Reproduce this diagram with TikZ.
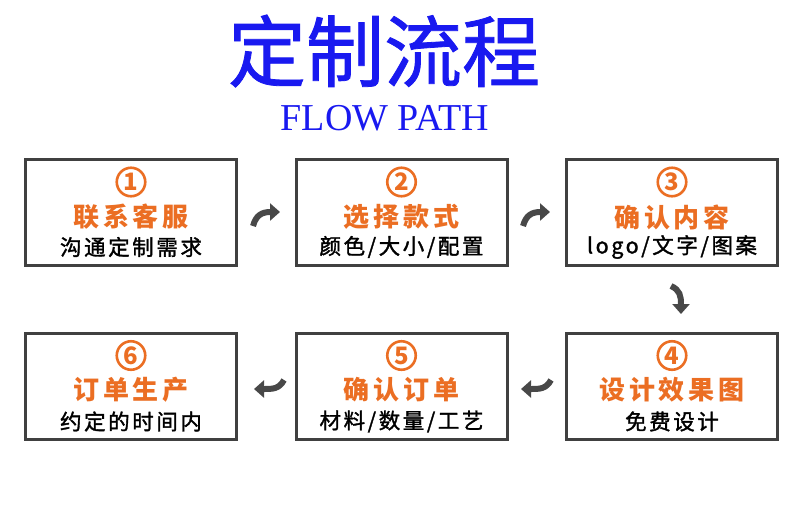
\documentclass[tikz,border=0pt]{standalone}
\usepackage{fontspec}
\setmainfont{Liberation Serif}
\newfontfamily\cjk{Noto Sans CJK SC}
\newfontfamily\cjktitle[FakeBold=1]{Noto Sans CJK SC}
\newfontfamily\cjkorange[LetterSpace=15]{Noto Sans CJK SC}
\newfontfamily\cjkblack[LetterSpace=12,FakeBold=1.5]{Noto Sans CJK SC}
\usetikzlibrary{arrows.meta}
\definecolor{titleblue}{RGB}{25,25,240}
\definecolor{orangec}{RGB}{235,110,35}
\definecolor{boxgray}{RGB}{64,64,64}
\definecolor{arrowgray}{RGB}{72,72,72}
\tikzset{
  stepbox/.style={draw=boxgray, line width=3pt, minimum width=211pt, minimum height=106pt, inner sep=0pt, fill=white},
  numc/.style={circle, draw=orangec, line width=2.6pt, minimum size=28.5pt, inner sep=0pt, text=orangec, font=\cjk\bfseries\fontsize{24}{24}\selectfont},
  headtxt/.style={text=orangec, inner sep=0pt, font=\cjkorange\bfseries\fontsize{26}{26}\selectfont},
  subtxt/.style={text=black, inner sep=0pt, font=\cjkblack\fontsize{21.5}{21.5}\selectfont},
  flowarrow/.style={line width=6pt, draw=arrowgray, -{Triangle[length=10pt,width=17pt]}}
}
\begin{document}
\begin{tikzpicture}[x=1pt, y=-1pt]
\useasboundingbox (0,0) rectangle (800,504);
\fill[white] (0,0) rectangle (800,504);

\node[text=titleblue, inner sep=0pt, font=\cjktitle\fontsize{78}{78}\selectfont] (title) at (384,51) {定制流程};
\node[text=titleblue, inner sep=0pt, font=\fontsize{38}{38}\selectfont] (subtitle) at (385,118.5) {FLOW PATH};

% boxes
\node[stepbox] (b1) at (131,212.5) {};
\node[stepbox] (b2) at (401.5,212.5) {};
\node[stepbox] (b3) at (672,212.5) {};
\node[stepbox] (b4) at (672,386) {};
\node[stepbox] (b5) at (401.5,386) {};
\node[stepbox] (b6) at (131,386) {};

% box 1
\node[numc] (n1) at ([yshift=-24pt]b1.north) {1};
\node[headtxt] (h1) at ([yshift=-59pt]b1.north) {联系客服};
\node[subtxt] (s1) at ([yshift=-89pt]b1.north) {沟通定制需求};
% box 2
\node[numc] (n2) at ([yshift=-24pt]b2.north) {2};
\node[headtxt] (h2) at ([yshift=-59pt]b2.north) {选择款式};
\node[subtxt] (s2) at ([yshift=-89pt]b2.north) {颜色/大小/配置};
% box 3
\node[numc] (n3) at ([yshift=-24pt]b3.north) {3};
\node[headtxt] (h3) at ([yshift=-59pt]b3.north) {确认内容};
\node[subtxt] (s3) at ([yshift=-89pt]b3.north) {logo/文字/图案};
% box 4
\node[numc] (n4) at ([yshift=-24pt]b4.north) {4};
\node[headtxt] (h4) at ([yshift=-58pt]b4.north) {设计效果图};
\node[subtxt] (s4) at ([yshift=-90pt]b4.north) {免费设计};
% box 5
\node[numc] (n5) at ([yshift=-24pt]b5.north) {5};
\node[headtxt] (h5) at ([yshift=-58pt]b5.north) {确认订单};
\node[subtxt] (s5) at ([yshift=-90pt]b5.north) {材料/数量/工艺};
% box 6
\node[numc] (n6) at ([yshift=-24pt]b6.north) {6};
\node[headtxt] (h6) at ([yshift=-58pt]b6.north) {订单生产};
\node[subtxt] (s6) at ([yshift=-90pt]b6.north) {约定的时间内};

% arrows
\coordinate (a1s) at (253,226); \coordinate (a1e) at (280,212);
\coordinate (a2s) at (523,226); \coordinate (a2e) at (550,212);
\coordinate (a3s) at (671,286); \coordinate (a3e) at (681,314);
\coordinate (a4s) at (551,380); \coordinate (a4e) at (521,389);
\coordinate (a5s) at (284,380); \coordinate (a5e) at (254,389);

\draw[flowarrow] (a1s) .. controls (256,215) and (262,212) .. (a1e);
\draw[flowarrow] (a2s) .. controls (526,215) and (532,212) .. (a2e);
\draw[flowarrow] (a3s) .. controls (680,290) and (681,296) .. (a3e);
\draw[flowarrow] (a4s) .. controls (546,389) and (540,389) .. (a4e);
\draw[flowarrow] (a5s) .. controls (279,389) and (273,389) .. (a5e);
\end{tikzpicture}
\end{document}
